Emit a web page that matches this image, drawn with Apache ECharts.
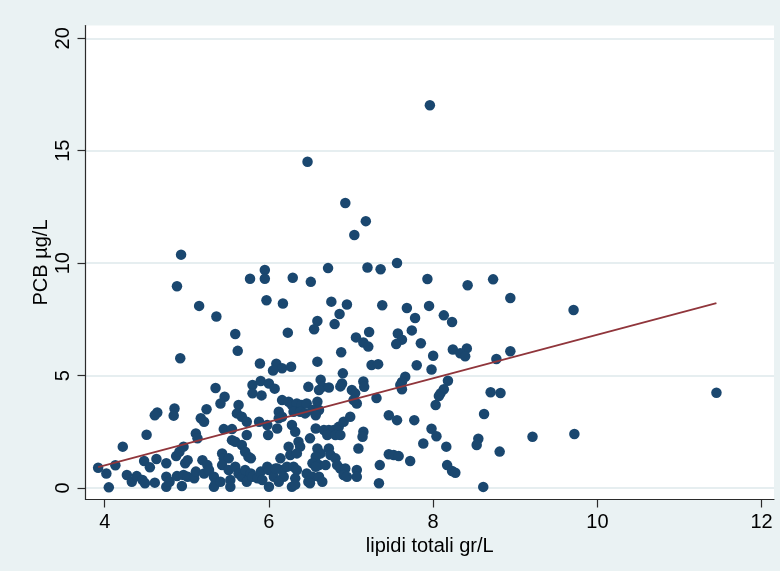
<!DOCTYPE html>
<html>
<head>
<meta charset="utf-8">
<script src="https://cdn.jsdelivr.net/npm/echarts@6/dist/echarts.min.js"></script>
<style>
  html, body { margin: 0; padding: 0; background: #EAF2F3; }
  #chart { width: 780px; height: 571px; }
</style>
</head>
<body>
<div id="chart"></div>
<script>
// Total lipids (g/L) for each subject
const lipidi = [
  7.96, 6.47, 6.93, 7.18, 7.04, 4.93, 7.56, 7.20, 7.36, 6.72,
  5.95, 5.77, 5.95, 6.29, 6.51, 7.93, 8.73, 4.88, 8.42, 8.94,
  5.97, 6.17, 6.76, 6.95, 7.38, 7.95, 5.15, 7.68, 9.71, 6.86,
  8.13, 7.78, 5.36, 6.59, 8.23, 6.80, 6.55, 7.74, 7.22, 6.23,
  5.59, 7.57, 7.06, 7.62, 7.15, 7.85, 7.55, 7.21, 8.24, 8.41,
  8.94, 5.62, 6.88, 8.33, 8.39, 8.00, 4.92, 8.77, 6.59, 5.89,
  7.25, 7.33, 7.80, 6.09, 6.16, 6.27, 6.05, 7.98, 6.90, 5.35,
  5.80, 5.90, 6.00, 6.07, 6.48, 6.63, 6.65, 6.73, 6.61, 6.89,
  6.87, 7.15, 7.16, 7.01, 7.05, 7.07, 7.03, 7.66, 7.62, 7.60,
  7.62, 8.18, 8.13, 8.09, 8.07, 8.03, 8.70, 8.82, 11.45, 5.46,
  5.41, 5.80, 5.91, 7.31, 6.16, 6.24, 6.28, 6.34, 6.40, 6.46,
  6.59, 6.30, 6.38, 6.44, 6.53, 6.61, 6.57, 6.12, 6.16, 6.10,
  6.12, 5.63, 5.24, 4.85, 4.84, 4.64, 4.61, 5.17, 5.21, 5.61,
  5.67, 5.73, 5.88, 5.98, 5.99, 6.28, 6.32, 6.57, 6.67, 6.73,
  6.79, 6.85, 6.91, 6.99, 6.71, 6.81, 6.87, 7.15, 7.14, 6.50,
  7.09, 7.46, 7.56, 7.77, 8.62, 7.98, 8.04, 7.88, 9.21, 9.72,
  8.55, 8.53, 8.16, 8.81, 7.46, 7.52, 7.58, 7.72, 7.35, 8.17,
  8.23, 8.27, 7.34, 8.61, 7.07, 7.07, 5.11, 5.13, 4.51, 4.22,
  5.45, 5.55, 5.55, 5.59, 5.67, 5.71, 5.75, 5.78, 5.73, 6.24,
  6.36, 6.38, 6.26, 6.34, 6.59, 6.63, 6.73, 6.75, 6.57, 6.53,
  6.61, 6.69, 6.81, 6.83, 6.87, 6.93, 6.91, 6.95, 6.14, 6.10,
  6.16, 6.22, 6.30, 6.34, 6.32, 6.18, 6.46, 6.53, 6.48, 6.61,
  6.65, 6.57, 6.50, 6.28, 6.32, 6.00, 3.92, 4.02, 4.13, 4.05,
  4.48, 4.63, 4.55, 4.75, 4.87, 4.91, 4.96, 4.98, 4.27, 4.33,
  4.39, 4.46, 4.49, 4.61, 4.75, 4.75, 4.79, 4.88, 4.94, 4.96,
  5.01, 5.01, 5.09, 5.11, 5.19, 5.25, 5.21, 5.27, 5.33, 5.35,
  5.33, 5.41, 5.43, 5.45, 5.51, 5.43, 5.51, 5.53, 5.53, 5.59,
  5.63, 5.67, 5.71, 5.73, 5.78, 5.80, 5.86, 5.90, 5.92, 5.98,
  6.00, 6.06, 6.08, 6.12
];

// PCB concentration (µg/L), same order as lipidi
const pcb = [
  17.02, 14.51, 12.68, 11.87, 11.25, 10.38, 10.01, 9.81, 9.73, 9.78,
  9.70, 9.31, 9.31, 9.35, 9.17, 9.30, 9.28, 8.97, 9.02, 8.45,
  8.35, 8.21, 8.29, 8.16, 8.13, 8.10, 8.10, 8.01, 7.92, 7.74,
  7.68, 7.56, 7.63, 7.43, 7.38, 7.29, 7.06, 7.01, 6.94, 6.91,
  6.85, 6.87, 6.70, 6.60, 6.47, 6.44, 6.40, 6.29, 6.16, 6.21,
  6.08, 6.10, 6.04, 5.99, 5.86, 5.88, 5.77, 5.74, 5.62, 5.54,
  5.47, 5.51, 5.46, 5.53, 5.33, 5.39, 5.23, 5.27, 5.10, 4.45,
  4.58, 4.76, 4.65, 4.42, 4.50, 4.82, 4.50, 4.47, 4.36, 4.65,
  4.52, 4.74, 4.50, 4.36, 4.21, 3.76, 3.91, 4.95, 4.72, 4.58,
  4.39, 4.77, 4.39, 4.21, 4.09, 3.69, 4.26, 4.23, 4.24, 4.06,
  3.76, 4.21, 4.12, 4.00, 3.91, 3.84, 3.69, 3.76, 3.69, 3.76,
  3.84, 3.39, 3.39, 3.32, 3.47, 3.47, 3.24, 3.39, 3.17, 2.65,
  3.10, 3.69, 3.50, 3.54, 3.22, 3.36, 3.24, 3.10, 2.95, 3.32,
  3.17, 2.95, 2.95, 2.80, 2.36, 2.80, 2.50, 2.65, 2.58, 2.58,
  2.58, 2.72, 2.95, 3.17, 2.36, 2.36, 2.36, 2.50, 2.28, 2.21,
  1.76, 3.24, 3.02, 3.02, 3.29, 2.64, 2.30, 1.98, 2.28, 2.40,
  2.19, 1.91, 1.84, 1.62, 1.50, 1.47, 1.42, 1.20, 1.02, 1.02,
  0.76, 0.68, 0.21, 0.05, 0.80, 0.50, 2.43, 2.21, 2.37, 1.84,
  2.62, 2.62, 2.13, 2.06, 1.91, 1.61, 1.39, 1.32, 2.36, 1.84,
  2.06, 1.84, 1.47, 1.54, 1.76, 1.54, 1.76, 1.47, 1.39, 1.10,
  1.02, 1.02, 1.32, 1.02, 0.87, 0.87, 0.58, 0.50, 1.32, 0.87,
  0.80, 0.95, 0.95, 0.80, 0.43, 0.50, 0.65, 0.50, 0.28, 0.50,
  0.28, 0.95, 0.21, 0.06, 0.15, 0.06, 0.90, 0.65, 1.01, 0.03,
  1.20, 1.29, 0.92, 1.10, 1.42, 1.61, 1.84, 1.10, 0.58, 0.28,
  0.53, 0.36, 0.21, 0.24, 0.50, 0.06, 0.28, 0.53, 0.09, 0.58,
  1.24, 0.50, 0.43, 0.73, 1.24, 1.02, 0.65, 0.80, 0.50, 0.21,
  0.06, 0.28, 1.54, 1.32, 1.32, 1.02, 0.80, 0.36, 0.06, 0.95,
  0.65, 0.50, 0.80, 0.28, 0.65, 0.50, 0.43, 0.73, 0.36, 0.95,
  0.80, 0.50, 0.87, 0.28
];

// Linear fit, drawn across the observed lipid range
const fitX = [3.92, 11.45];
const fitY = [0.93, 8.22];

// Axis tick values
const xTicks = [4, 6, 8, 10, 12];
const yTicks = [0, 5, 10, 15, 20];

const punti = lipidi.map((x, i) => [x, pcb[i]]);
const retta = fitX.map((x, i) => [x, fitY[i]]);

const FONT = '"Liberation Sans", Arial, sans-serif';
const AXIS_COLOR = '#2b2b2b';

const chart = echarts.init(document.getElementById('chart'), null, { renderer: 'canvas' });
chart.setOption({
  backgroundColor: '#EAF2F3',
  animation: false,
  grid: {
    left: 85.5, right: 6, top: 25.5, bottom: 71.5,
    show: true, backgroundColor: '#ffffff', borderWidth: 0
  },
  xAxis: {
    type: 'value',
    min: 3.766, max: 12.151,
    name: 'lipidi totali gr/L',
    nameLocation: 'middle',
    nameGap: 37,
    nameMoveOverlap: false,
    nameTextStyle: { fontFamily: FONT, fontSize: 20, color: '#000' },
    axisLine: { show: true, onZero: false, lineStyle: { color: AXIS_COLOR, width: 1.2 } },
    axisTick: { show: true, length: 8, customValues: xTicks, lineStyle: { color: AXIS_COLOR, width: 1.2 } },
    axisLabel: { customValues: xTicks, margin: 13, fontFamily: FONT, fontSize: 20, color: '#000' },
    splitLine: { show: false }
  },
  yAxis: {
    type: 'value',
    min: -0.51, max: 20.57,
    name: 'PCB µg/L',
    nameLocation: 'middle',
    nameRotate: 90,
    nameGap: 34,
    nameMoveOverlap: false,
    nameTextStyle: { fontFamily: FONT, fontSize: 20, color: '#000' },
    axisLine: { show: true, onZero: false, lineStyle: { color: AXIS_COLOR, width: 1.2 } },
    axisTick: { show: true, length: 8, customValues: yTicks, lineStyle: { color: AXIS_COLOR, width: 1.2 } },
    axisLabel: { customValues: yTicks, rotate: 90, margin: 12, fontFamily: FONT, fontSize: 20, color: '#000' },
    splitLine: { show: true, lineStyle: { color: '#E6EEF0', width: 2 } }
  },
  series: [
    {
      type: 'scatter',
      data: punti,
      symbol: 'circle',
      symbolSize: 10.5,
      itemStyle: { color: '#1A476F', opacity: 1 },
      z: 3,
      silent: true
    },
    {
      type: 'line',
      data: retta,
      showSymbol: false,
      symbol: 'none',
      lineStyle: { color: '#90353B', width: 1.8 },
      z: 4,
      silent: true
    }
  ]
});
</script>
</body>
</html>
